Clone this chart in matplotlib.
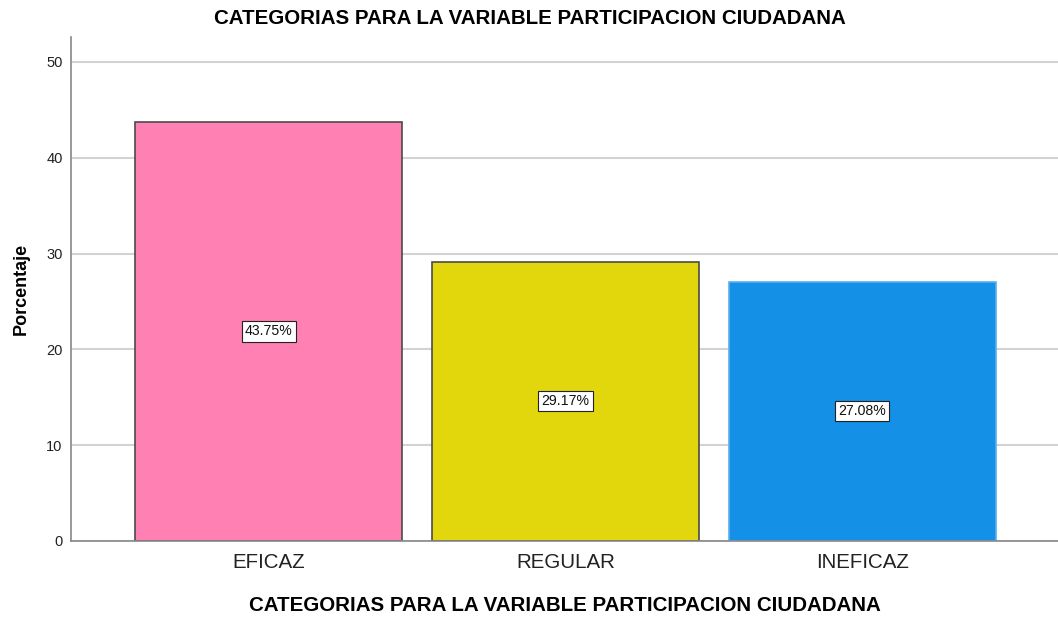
import matplotlib
matplotlib.use("Agg")
import matplotlib.pyplot as plt

categories = ["EFICAZ", "REGULAR", "INEFICAZ"]
percentages = [43.75, 29.17, 27.08]
bar_colors = ["#FF80B2", "#E2D70D", "#1490E6"]
edge_colors = ["#4a4a4a", "#4a4a4a", "#5aaef0"]
y_ticks = [0, 10, 20, 30, 40, 50]

plt.rcParams['font.family'] = ['Liberation Sans', 'DejaVu Sans']

fig = plt.figure(figsize=(10.58, 6.17), dpi=100)
ax = fig.add_axes([71 / 1058, 1 - 541 / 617, 1 - 71 / 1058, (541 - 37) / 617])

x = list(range(len(categories)))
ax.set_axisbelow(True)
ax.grid(axis='y', color='#d2d2d2', linewidth=1.5)
ax.bar(x, percentages, width=0.9, color=bar_colors,
       edgecolor=edge_colors, linewidth=1.2)

for xi, v in zip(x, percentages):
    ax.text(xi, v / 2, f"{v:.2f}%", ha='center', va='center', fontsize=10.2,
            color='#111111',
            bbox=dict(boxstyle='square,pad=0.22', facecolor='white',
                      edgecolor='#222222', linewidth=0.8))

ax.set_xlim(-0.666, 2.66)
ax.set_ylim(0, 52.6)
ax.set_yticks(y_ticks)
ax.set_xticks(x)
ax.set_xticklabels(categories, fontsize=14.8, color='#222222')
ax.tick_params(axis='y', length=0, labelsize=10.5, pad=6, labelcolor='#222222')
ax.tick_params(axis='x', length=0, pad=9)

for side in ['top', 'right']:
    ax.spines[side].set_visible(False)
for side in ['left', 'bottom']:
    ax.spines[side].set_color('#888888')
    ax.spines[side].set_linewidth(1.2)

ax.set_ylabel("Porcentaje", fontsize=13, fontweight='bold', labelpad=12)
ax.set_xlabel("CATEGORIAS PARA LA VARIABLE PARTICIPACION CIUDADANA",
              fontsize=14.8, fontweight='bold', labelpad=17)
fig.text(530 / 1058, 1 - 19 / 617,
         "CATEGORIAS PARA LA VARIABLE PARTICIPACION CIUDADANA",
         ha='center', va='center', fontsize=14.8, fontweight='bold')

fig.savefig("out.png", dpi=100)
